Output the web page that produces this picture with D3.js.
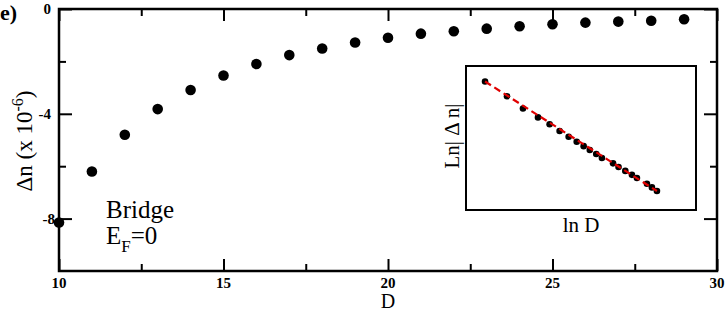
<!DOCTYPE html>
<html><head><meta charset="utf-8">
<script src="https://cdn.jsdelivr.net/npm/d3@7"></script>
<style>body{margin:0;background:#fff}svg{display:block}</style>
</head><body><svg id="c" width="727" height="314" font-family="Liberation Serif"></svg>
<script>
const D = [10,11,12,13,14,15,16,17,18,19,20,21,22,23,24,25,26,27,28,29];
const dn = [-8.15,-6.2,-4.8,-3.82,-3.09,-2.54,-2.10,-1.76,-1.51,-1.28,-1.10,-0.94,-0.85,-0.75,-0.66,-0.58,-0.52,-0.48,-0.45,-0.39];
const xMajor = [10,15,20,25,30];
const xMinor = [12.5,17.5,22.5,27.5];
const yMajor = [0,-4,-8];
const yMinor = [-2,-6];
const insetLnD = [2.303,2.439,2.538,2.631,2.703,2.765,2.821,2.871,2.914,2.952,2.992,3.027,3.096,3.130,3.172,3.213,3.244,3.306,3.337,3.368];
const insetLnDn = [-11.72,-12.13,-12.47,-12.72,-12.91,-13.10,-13.26,-13.40,-13.52,-13.63,-13.74,-13.85,-14.00,-14.10,-14.21,-14.32,-14.41,-14.57,-14.67,-14.77];
const fitLnD = [2.303,3.368];
const fitLnDn = [-11.72,-14.77];

const svg = d3.select('#c');
const L=59,R=717,T=9,B=271;
const x = d3.scaleLinear().domain([10,30]).range([L,R]);
const y = d3.scaleLinear().domain([-10,0]).range([B,T]);

function tickAxis(axisFn, scale, vals, len, transform){
  const g = svg.append('g').attr('transform',transform)
    .call(axisFn(scale).tickValues(vals).tickSizeInner(-len).tickSizeOuter(0).tickFormat(''));
  g.select('.domain').remove();
  g.selectAll('text').remove();
  g.selectAll('line').attr('stroke','#000').attr('stroke-width',2);
  return g;
}
tickAxis(d3.axisBottom, x, xMajor, 12, `translate(0,${B})`);
tickAxis(d3.axisBottom, x, xMinor, 7, `translate(0,${B})`);
tickAxis(d3.axisTop, x, xMajor, 12, `translate(0,${T})`);
tickAxis(d3.axisTop, x, xMinor, 7, `translate(0,${T})`);
tickAxis(d3.axisLeft, y, yMajor, 13, `translate(${L},0)`);
tickAxis(d3.axisLeft, y, yMinor, 7, `translate(${L},0)`);
tickAxis(d3.axisRight, y, yMajor, 13, `translate(${R},0)`);
tickAxis(d3.axisRight, y, yMinor, 7, `translate(${R},0)`);

svg.append('rect').attr('x',L).attr('y',T).attr('width',R-L).attr('height',B-T)
  .attr('fill','none').attr('stroke','#000').attr('stroke-width',2.5);

function txt(sel){ return sel.attr('font-family','Liberation Serif').style('font-family','"Liberation Serif"'); }

txt(svg.append('g').selectAll('text').data(xMajor).join('text'))
  .attr('x',d=>x(d)).attr('y',288).attr('text-anchor','middle')
  .style('font-weight','bold').style('font-size','15px').text(d=>d);
txt(svg.append('g').selectAll('text').data(yMajor).join('text'))
  .attr('x',d=>d===-8?55:51).attr('y',d=>y(d)+5).attr('text-anchor','end')
  .style('font-weight','bold').style('font-size','15px').text(d=>d);

svg.append('g').selectAll('circle').data(D).join('circle')
  .attr('cx',(d)=>x(d)).attr('cy',(d,i)=>y(dn[i])).attr('r',5.3).attr('fill','#000');

txt(svg.append('text')).attr('x',0).attr('y',20).style('font-size','22px').style('font-weight','bold').text('e)');
txt(svg.append('text')).attr('x',x(20)).attr('y',308).attr('text-anchor','middle')
  .style('font-size','20px').text('D');
const yl = txt(svg.append('text')).attr('transform','translate(32,141) rotate(-90)').attr('text-anchor','middle')
  .style('font-size','23px');
yl.append('tspan').text('Δn (x 10');
yl.append('tspan').attr('dy',-9).style('font-size','16px').text('-6');
yl.append('tspan').attr('dy',9).text(')');

txt(svg.append('text')).attr('x',106).attr('y',218).style('font-size','25px').text('Bridge');
const ef = txt(svg.append('text')).attr('x',106).attr('y',244).style('font-size','25px');
ef.append('tspan').text('E');
ef.append('tspan').attr('dy',8).style('font-size','17px').text('F');
ef.append('tspan').attr('dy',-8).text('=0');

const iL=466,iR=696,iT=66,iB=210;
const ix = d3.scaleLinear().domain([2.185,3.610]).range([iL,iR]);
const iy = d3.scaleLinear().domain([-15.30,-11.287]).range([iB,iT]);
svg.append('rect').attr('x',iL).attr('y',iT).attr('width',iR-iL).attr('height',iB-iT)
  .attr('fill','#fff').attr('stroke','#000').attr('stroke-width',2);
svg.append('g').selectAll('circle').data(insetLnD).join('circle')
  .attr('cx',d=>ix(d)).attr('cy',(d,i)=>iy(insetLnDn[i])).attr('r',3.3).attr('fill','#000');
svg.append('path').datum(fitLnD.map((d,i)=>[d,fitLnDn[i]]))
  .attr('d',d3.line().x(d=>ix(d[0])).y(d=>iy(d[1])))
  .attr('stroke','#e00000').attr('stroke-width',2.2).attr('stroke-dasharray','7,4').attr('fill','none');
txt(svg.append('text')).attr('x',581).attr('y',232).attr('text-anchor','middle')
  .style('font-size','21px').text('ln D');
txt(svg.append('text')).attr('transform','translate(459,136) rotate(-90)').attr('text-anchor','middle')
  .style('font-size','21px').text('Ln| Δ n|');
</script></body></html>
